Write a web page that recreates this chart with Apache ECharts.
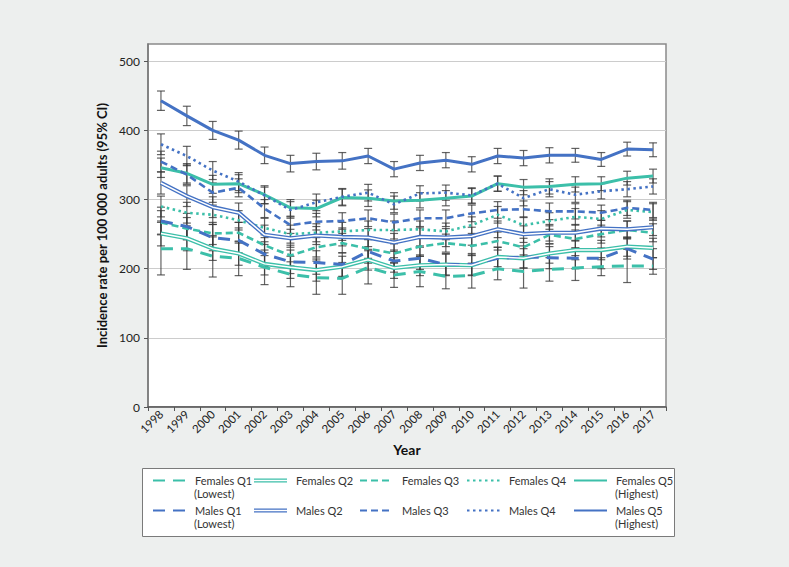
<!DOCTYPE html>
<html><head><meta charset="utf-8">
<script src="https://cdn.jsdelivr.net/npm/echarts@6/dist/echarts.min.js"></script>
<style>html,body{margin:0;padding:0;background:#fff}#c{width:789px;height:567px}</style>
</head><body><div id="c"></div>
<script>
const years = ['1998','1999','2000','2001','2002','2003','2004','2005','2006','2007','2008','2009','2010','2011','2012','2013','2014','2015','2016','2017'];
const yTicks = [0,100,200,300,400,500];

const femalesQ1 = [229,229,218,215,202,192,187,186,202,191,196,189,190,200,196,199,201,203,204,204];
const femalesQ2 = [251,244,229,222,207,202,198,203,213,201,205,206,205,217,215,222,227,227,232,230];
const femalesQ3 = [267,258,251,252,234,219,231,237,229,222,232,237,233,240,231,249,243,250,256,252];
const femalesQ4 = [290,281,278,270,259,250,252,254,256,256,257,254,263,278,263,269,275,272,285,282];
const femalesQ5 = [346,338,322,323,307,288,287,303,302,298,299,302,305,323,318,319,322,323,331,334];
const malesQ1 = [269,261,245,241,221,210,209,206,225,211,215,206,206,215,217,216,215,215,229,214];
const malesQ2 = [324,305,289,281,249,244,248,246,245,238,246,245,247,257,250,252,252,258,257,260];
const malesQ3 = [355,336,310,317,287,263,268,269,273,267,273,273,280,285,286,283,283,281,288,285];
const malesQ4 = [380,363,342,326,306,285,296,304,310,293,309,310,306,323,302,315,307,312,315,319];
const malesQ5 = [443,421,400,386,364,352,355,356,363,344,353,357,351,363,360,364,364,358,373,372];

// 95% CI half-widths
const femalesQ1CI = [38,30,30,25,25,18,24,23,24,18,22,18,18,16,24,17,18,13,24,12];
const femalesQ2CI = [18,18,17,17,16,16,16,15,15,15,15,15,14,14,14,14,14,14,14,14];
const femalesQ3CI = [17,16,16,15,15,15,14,14,14,14,14,13,13,13,13,13,13,13,13,13];
const femalesQ4CI = [15,15,14,14,14,13,13,13,13,13,12,12,12,12,12,12,12,12,12,12];
const femalesQ5CI = [14,14,13,13,13,12,12,12,12,12,11,11,11,11,11,11,11,10,10,10];
const malesQ1CI = [20,19,19,18,18,17,17,17,17,16,16,16,16,16,16,16,15,15,15,15];
const malesQ2CI = [16,15,15,14,14,13,13,13,13,13,13,13,13,12,12,12,12,12,12,12];
const malesQ3CI = [15,14,14,13,13,12,12,12,12,12,12,12,12,12,12,12,11,11,11,11];
const malesQ4CI = [15,14,13,13,12,12,12,12,12,12,11,11,11,11,11,11,11,11,11,11];
const malesQ5CI = [14,14,13,13,12,12,12,12,11,11,11,11,11,11,11,11,10,10,10,10];

const TEAL = '#3cbfa9', BLUE = '#4472c4';
const FONT = 'Lato';

const defs = [
  {name:'Females Q1', sub:'(Lowest)',  data:femalesQ1, ci:femalesQ1CI, color:TEAL, q:1},
  {name:'Females Q2', sub:'',          data:femalesQ2, ci:femalesQ2CI, color:TEAL, q:2},
  {name:'Females Q3', sub:'',          data:femalesQ3, ci:femalesQ3CI, color:TEAL, q:3},
  {name:'Females Q4', sub:'',          data:femalesQ4, ci:femalesQ4CI, color:TEAL, q:4},
  {name:'Females Q5', sub:'(Highest)', data:femalesQ5, ci:femalesQ5CI, color:TEAL, q:5},
  {name:'Males Q1',   sub:'(Lowest)',  data:malesQ1,   ci:malesQ1CI,   color:BLUE, q:1},
  {name:'Males Q2',   sub:'',          data:malesQ2,   ci:malesQ2CI,   color:BLUE, q:2},
  {name:'Males Q3',   sub:'',          data:malesQ3,   ci:malesQ3CI,   color:BLUE, q:3},
  {name:'Males Q4',   sub:'',          data:malesQ4,   ci:malesQ4CI,   color:BLUE, q:4},
  {name:'Males Q5',   sub:'(Highest)', data:malesQ5,   ci:malesQ5CI,   color:BLUE, q:5}
];

function lineStyleFor(d){
  switch(d.q){
    case 1: return {color:d.color, width:3, type:[12,8]};
    case 2: return {color:d.color, width:4.2, type:'solid'};
    case 3: return {color:d.color, width:2.6, type:[7,4]};
    case 4: return {color:d.color, width:2.6, type:[2.5,3.5]};
    default: return {color:d.color, width:3, type:'solid'};
  }
}

const series = [];
// error bars
defs.forEach(d => {
  series.push({
    type:'custom', name:d.name+' CI', z:1, silent:true,
    data: d.data.map((v,i)=>[i, v-d.ci[i], v+d.ci[i]]),
    encode:{x:0, y:[1,2]},
    renderItem:(params, api) => {
      const x = api.value(0);
      const lo = api.coord([x, api.value(1)]);
      const hi = api.coord([x, api.value(2)]);
      const hw = 4;
      const st = {stroke:'rgba(55,55,55,0.78)', lineWidth:1.2};
      return {type:'group', children:[
        {type:'line', shape:{x1:lo[0], y1:lo[1], x2:hi[0], y2:hi[1]}, style:st},
        {type:'line', shape:{x1:lo[0]-hw, y1:lo[1], x2:lo[0]+hw, y2:lo[1]}, style:st},
        {type:'line', shape:{x1:hi[0]-hw, y1:hi[1], x2:hi[0]+hw, y2:hi[1]}, style:st}
      ]};
    }
  });
});
// lines
defs.forEach(d => {
  series.push({
    type:'line', name:d.name, data:d.data, z:3, symbol:'none', showSymbol:false, silent:true,
    itemStyle:{color:d.color}, lineStyle:lineStyleFor(d)
  });
  if (d.q === 2) {
    series.push({
      type:'line', name:d.name+' inner', data:d.data, z:4, symbol:'none', silent:true,
      itemStyle:{color:'#fff'}, lineStyle:{color:'#ffffff', width:1.5}
    });
  }
});

const colX = [152, 254, 359, 466, 573];
const rowY = [480.5, 510.5];
const legends = defs.map((d, k) => {
  const col = k % 5, row = Math.floor(k / 5);
  const lg = {
    data:[d.name], left:colX[col], top: rowY[row] - 7,
    orient:'horizontal', padding:0, itemWidth:33, itemHeight:14, selectedMode:false,
    textStyle:{fontFamily:FONT, fontSize:11, color:'#333', lineHeight:14, padding:[0,0,0,4]},
    itemStyle:{opacity:0}
  };
  if (d.q === 2) {
    lg.data = [{name:d.name, icon:'path://M0,0H33V1.3H0Z M0,2.9H33V4.2H0Z', itemStyle:{opacity:1, color:d.color}}];
    lg.itemStyle = {opacity:1};
    lg.itemHeight = 4.2;
  }
  return lg;
});

const subTexts = defs.map((d, k) => {
  const col = k % 5, row = Math.floor(k / 5);
  return d.sub ? {type:'text', left:colX[col] + 42, top:rowY[row] + 7, silent:true,
    style:{text:d.sub, fontFamily:FONT, fontSize:11, fill:'#333'}} : null;
}).filter(Boolean);

const option = {
  backgroundColor:'#edefee',
  animation:false,
  grid:{left:148, right:123, top:44, bottom:160, show:true, backgroundColor:'#ffffff', borderColor:'#8a8a8a', borderWidth:1.5},
  legend: legends,
  graphic:[
    {type:'rect', left:142, top:468, shape:{width:532, height:68}, style:{fill:'#ffffff', stroke:'#7a7a7a', lineWidth:1}, z:-1, silent:true}
  ].concat(subTexts),
  xAxis:{
    type:'category', data:years, boundaryGap:true,
    name:'Year', nameLocation:'middle', nameGap:32,
    nameTextStyle:{fontFamily:FONT, fontWeight:'bold', fontSize:14, color:'#111'},
    axisLine:{lineStyle:{color:'#555', width:1.5}},
    axisTick:{show:true, length:4, lineStyle:{color:'#555'}},
    axisLabel:{rotate:45, fontFamily:FONT, fontSize:11.5, color:'#222', margin:5, interval:0}
  },
  yAxis:{
    type:'value', min:0, max:525, interval:100,
    name:'Incidence rate per 100 000 adults (95% CI)', nameLocation:'middle', nameGap:35,
    nameTextStyle:{fontFamily:FONT, fontWeight:'bold', fontSize:13, color:'#111'},
    axisLine:{show:true, lineStyle:{color:'#777', width:1.5}},
    axisTick:{show:true, length:4, lineStyle:{color:'#555'}, customValues:yTicks},
    axisLabel:{fontFamily:FONT, fontSize:12, color:'#222', margin:8, customValues:yTicks},
    splitLine:{show:true, lineStyle:{color:'#cccccc', width:1}}
  },
  series: series
};
const chart = echarts.init(document.getElementById('c'), null, {renderer:'svg'});
chart.setOption(option);
</script>
</body></html>
